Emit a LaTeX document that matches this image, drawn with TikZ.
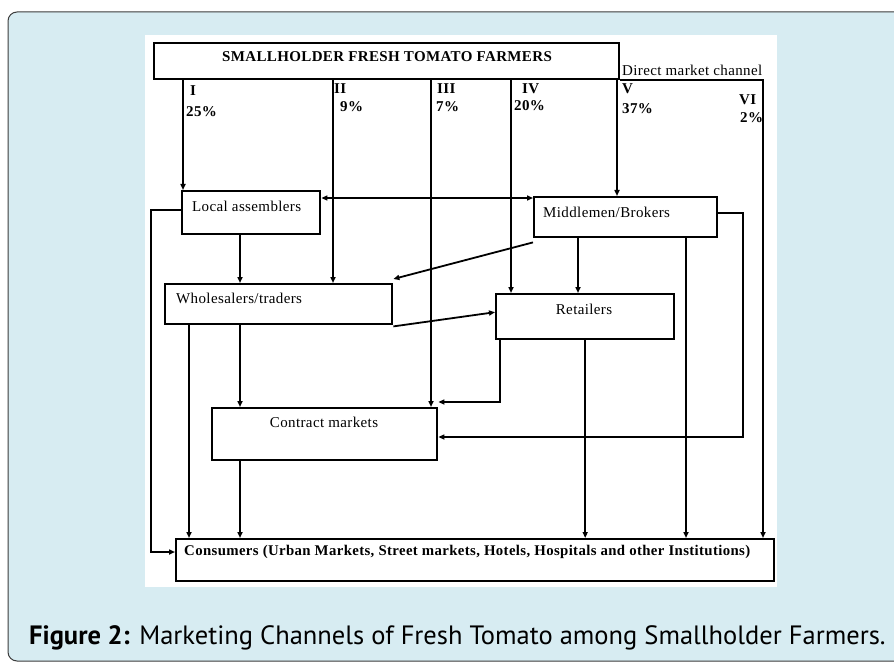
\documentclass[tikz,border=0pt]{standalone}
\usepackage{fontspec}
\setmainfont[LetterSpace=2.5]{Liberation Serif}
\newfontfamily\captionfont{PT Sans}
\usetikzlibrary{arrows.meta}

\definecolor{panelblue}{RGB}{215,236,242}
\definecolor{framegray}{RGB}{60,60,60}

\tikzset{
  box/.style={draw, rectangle, line width=2.4pt, inner sep=0pt, anchor=north west},
  flow/.style={line width=1.8pt, -{Triangle[length=6pt,width=5pt]}},
  twoway/.style={line width=1.8pt, {Triangle[length=6pt,width=5pt]}-{Triangle[length=6pt,width=5pt]}},
  txt/.style={inner sep=0pt, anchor=west, font=\fontsize{15}{17}\selectfont},
  chan/.style={inner sep=0pt, anchor=west, font=\bfseries\fontsize{15}{17}\selectfont},
}

\begin{document}
\begin{tikzpicture}[x=1pt,y=1pt,yscale=-1]
    \path[use as bounding box] (0,0) rectangle (894,663); %same size as the figure panel

    %Panel background
    \draw[framegray, line width=1pt, fill=panelblue, rounded corners=9pt] (8,12) rectangle (920,661);
    \fill[white] (145,35) rectangle (777,587);

    %Boxes
    \node[box, minimum width=465pt, minimum height=36pt] (farmers) at (153,42) {};
    \node[box, minimum width=138pt, minimum height=43pt] (local) at (181,190) {};
    \node[box, minimum width=183pt, minimum height=40pt] (middle) at (533,196) {};
    \node[box, minimum width=227pt, minimum height=40pt] (whole) at (164,283) {};
    \node[box, minimum width=178pt, minimum height=45pt] (retail) at (495,293) {};
    \node[box, minimum width=225pt, minimum height=52pt] (contract) at (211,407) {};
    \node[box, minimum width=598pt, minimum height=42pt] (consumers) at (175,538) {};

    %Column and row guides for the connectors
    \coordinate (chI) at (183,0);
    \coordinate (chII) at (333,0);
    \coordinate (chIII) at (431,0);
    \coordinate (chIV) at (511,0);
    \coordinate (chV) at (617,0);
    \coordinate (chVI) at (763,0);
    \coordinate (colW) at (189,0);
    \coordinate (colA) at (240,0);
    \coordinate (colM) at (578,0);
    \coordinate (colMR) at (686,0);
    \coordinate (colR) at (500,0);
    \coordinate (colE) at (743,0);
    \coordinate (colL) at (151,0);
    \coordinate (rowA) at (0,198);
    \coordinate (rowC) at (0,437);
    \coordinate (rowL) at (0,552);

    %Channels from the farmers
    \draw[flow] (farmers.south -| chI) -- (local.north -| chI);
    \draw[flow] (farmers.south -| chII) -- (whole.north -| chII);
    \draw[flow] (farmers.south -| chIII) -- (contract.north -| chIII);
    \draw[flow] (farmers.south -| chIV) -- (retail.north -| chIV);
    \draw[flow] (farmers.south -| chV) -- (middle.north -| chV);
    \draw[flow] (farmers.south east) -- (farmers.south -| chVI) -- (consumers.north -| chVI);

    %Between the intermediaries
    \draw[twoway] (local.east |- rowA) -- (middle.west |- rowA);
    \draw[flow] (local.south -| colA) -- (whole.north -| colA);
    \draw[flow] ([yshift=4pt]middle.south west) -- ([yshift=-4pt]whole.north east);
    \draw[flow] ([yshift=1pt]whole.south east) -- ([yshift=-4.5pt]retail.west);
    \draw[flow] (middle.south -| colM) -- (retail.north -| colM);
    \draw[flow] (whole.south -| colA) -- (contract.north -| colA);
    \draw[flow] (retail.south -| colR) |- ([yshift=-5pt]contract.north east);
    \draw[flow] ([yshift=-4pt]middle.east) -| (colE |- rowC) -- (contract.east |- rowC);

    %Into the consumers
    \draw[flow] (whole.south -| colW) -- (consumers.north -| colW);
    \draw[flow] (contract.south -| colA) -- (consumers.north -| colA);
    \draw[flow] (retail.south) -- (consumers.north -| retail.south);
    \draw[flow] (middle.south -| colMR) -- (consumers.north -| colMR);
    \draw[flow] ([yshift=-3pt]local.west) -| (colL |- rowL) -- (consumers.west |- rowL);

    % Text Node
    \node[inner sep=0pt, font=\bfseries\fontsize{15}{17}\selectfont] (farmerstext) at (387,57) {SMALLHOLDER FRESH TOMATO FARMERS};
    % Text Node
    \node[txt] (direct) at (622,70) {Direct market channel};
    % Text Node
    \node[chan] (labI) at (190,91) {I};
    \node[chan] (pcI) at (186,112) {25\%};
    \node[chan] (labII) at (334,89) {II};
    \node[chan] (pcII) at (340,107) {9\%};
    \node[chan] (labIII) at (437,89) {III};
    \node[chan] (pcIII) at (436,107) {7\%};
    \node[chan] (labIV) at (522,89) {IV};
    \node[chan] (pcIV) at (514,106) {20\%};
    \node[chan] (labV) at (622,89) {V};
    \node[chan] (pcV) at (622,109) {37\%};
    \node[chan] (labVI) at (739,100) {VI};
    \node[chan] (pcVI) at (740,118) {2\%};
    % Text Node
    \node[txt] (localtext) at (192,206) {Local assemblers};
    \node[txt] (middletext) at (543,212) {Middlemen/Brokers};
    \node[txt] (wholetext) at (176,298) {Wholesalers/traders};
    \node[txt, anchor=center] (retailtext) at (584,309) {Retailers};
    \node[txt, anchor=center] (contracttext) at (324,422) {Contract markets};
    \node[chan, font=\bfseries\fontsize{14.8}{17}\selectfont] (consumerstext) at (184,552) {Consumers (Urban Markets, Street markets, Hotels, Hospitals and other Institutions)};

    % Caption
    \node[anchor=base west, inner sep=0pt, font=\captionfont\fontsize{26.5}{30}\selectfont] (caption) at (29,644) {\textbf{Figure 2:} Marketing Channels of Fresh Tomato among Smallholder Farmers.};
\end{tikzpicture}
\end{document}
